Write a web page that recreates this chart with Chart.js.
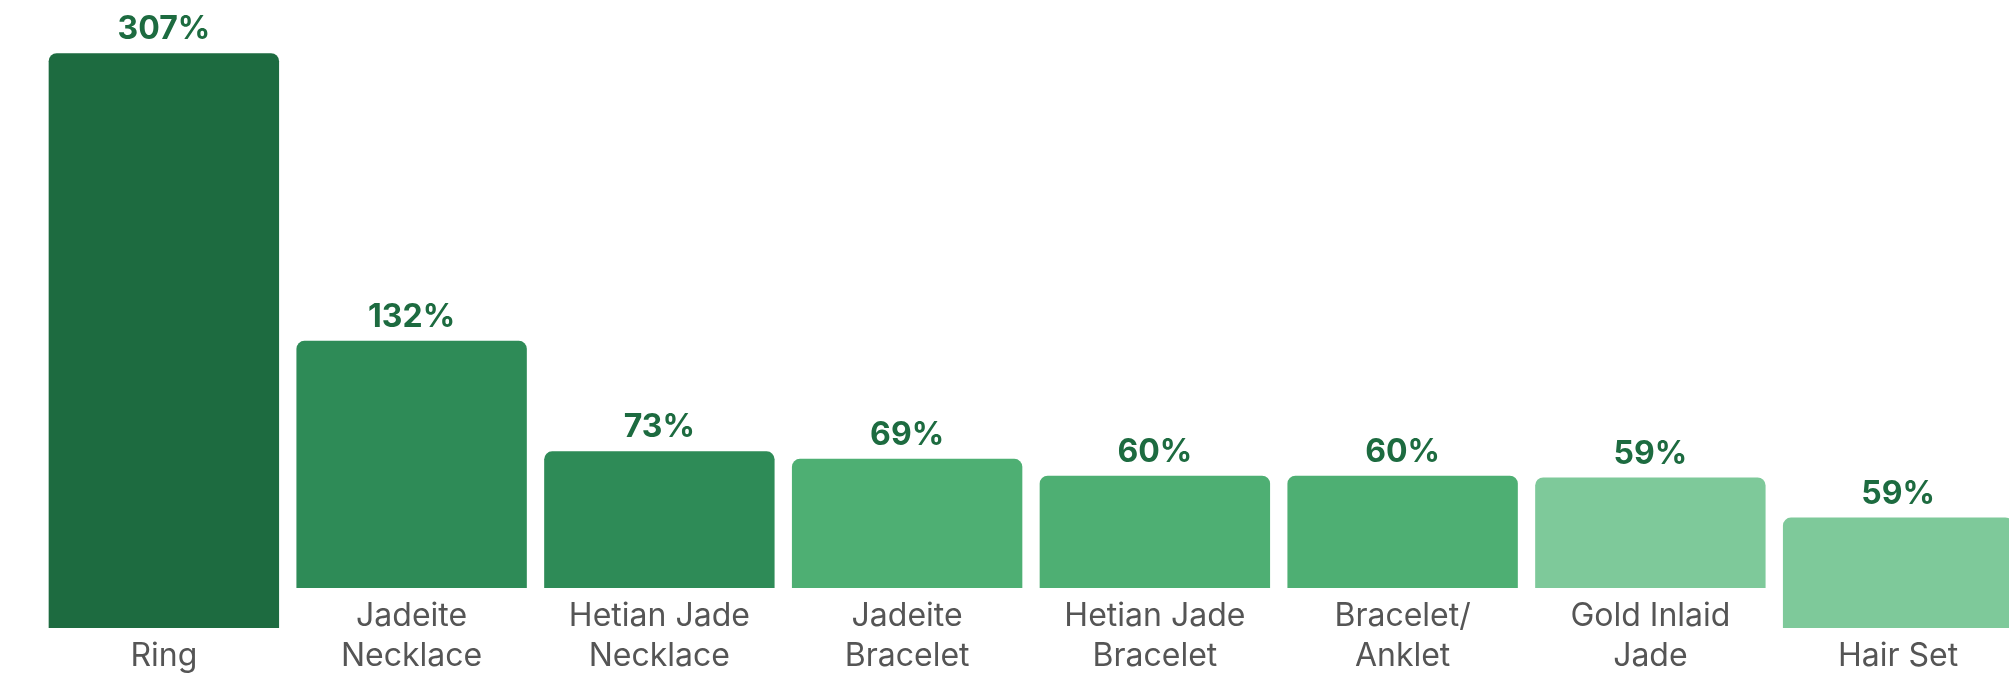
<!DOCTYPE html>
<html>
<head>
<meta charset="utf-8">
<script src="https://cdn.jsdelivr.net/npm/chart.js@4/dist/chart.umd.min.js"></script>
<style>
  html, body { margin: 0; padding: 0; background: #fff; overflow: hidden; }
  #wrap { width: 2040px; height: 684px; }
</style>
</head>
<body>
<div id="wrap"><canvas id="myChart"></canvas></div>
<script>
// growth by jewellery category, in percent
var categories = [
  ['Ring'],
  ['Jadeite', 'Necklace'],
  ['Hetian Jade', 'Necklace'],
  ['Jadeite', 'Bracelet'],
  ['Hetian Jade', 'Bracelet'],
  ['Bracelet/', 'Anklet'],
  ['Gold Inlaid', 'Jade'],
  ['Hair Set']
];
var growth = [307, 132, 73, 69, 60, 60, 59, 59];
var barColors = ['#1d6b40', '#2e8b57', '#2e8b57', '#4eaf73', '#4eaf73', '#4eaf73', '#7ec99a', '#7ec99a'];

// one-line labels sit on the second line, and their bars reach down to it
var lineDrop = 21.4;
var tickLabels = categories.map(function (c) { return c.length === 1 ? ['', c[0]] : c; });
var bars = growth.map(function (v, i) {
  var base = categories[i].length === 1 ? -lineDrop : 0;
  return [base, base + v];
});

var valueLabels = {
  id: 'valueLabels',
  afterDatasetsDraw: function (chart) {
    var ctx = chart.ctx;
    var meta = chart.getDatasetMeta(0);
    ctx.save();
    ctx.font = 'bold 32px Inter';
    ctx.fillStyle = '#1d6b40';
    ctx.textAlign = 'center';
    ctx.textBaseline = 'alphabetic';
    meta.data.forEach(function (bar, i) {
      ctx.fillText(growth[i] + '%', bar.x, bar.y - 14);
    });
    ctx.restore();
  }
};

var ctx = document.getElementById('myChart').getContext('2d');
var myChart = new Chart(ctx, {
  type: 'bar',
  data: {
    labels: tickLabels,
    datasets: [{
      data: bars,
      backgroundColor: barColors,
      borderRadius: { topLeft: 8, topRight: 8, bottomLeft: 0, bottomRight: 0 },
      borderSkipped: false,
      barPercentage: 0.93,
      categoryPercentage: 1.0,
      clip: false
    }]
  },
  options: {
    responsive: true,
    maintainAspectRatio: false,
    animation: false,
    layout: { padding: { left: 40, right: 18, top: 0, bottom: 0 } },
    plugins: {
      legend: { display: false },
      tooltip: { enabled: false }
    },
    scales: {
      x: {
        grid: { display: false, drawTicks: false },
        border: { display: false },
        ticks: {
          color: '#555555',
          font: { family: 'Inter', size: 32, lineHeight: 1.25 },
          padding: 8,
          maxRotation: 0,
          autoSkip: false
        }
      },
      y: {
        display: false,
        min: 0,
        max: 314
      }
    }
  },
  plugins: [valueLabels]
});
</script>
</body>
</html>
